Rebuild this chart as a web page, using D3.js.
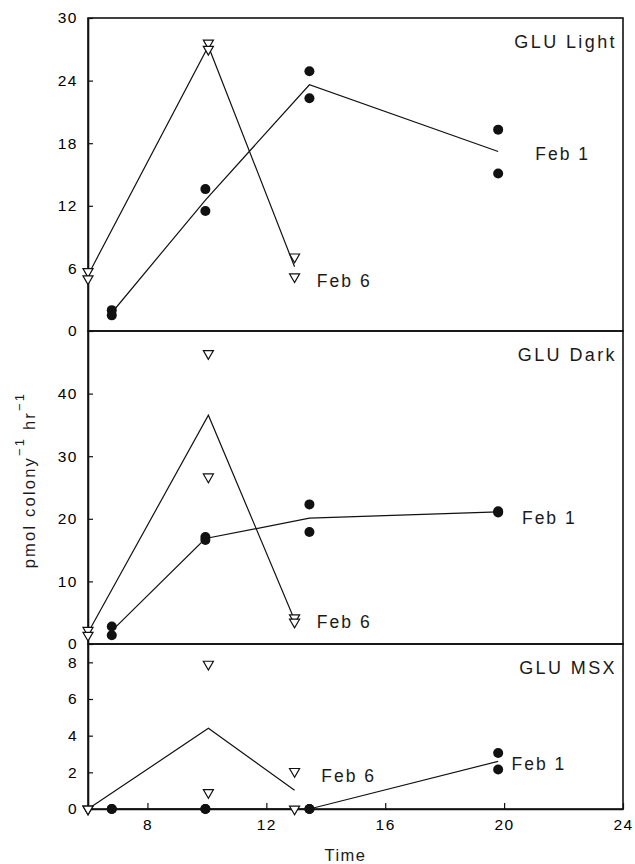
<!DOCTYPE html>
<html lang="en">
<head>
    <meta charset="utf-8">
    <title>GLU uptake</title>
    <script src="https://d3js.org/d3.v7.min.js" charset="utf-8"></script>
    <style type="text/css">
        body { margin: 0; background: #fff; }
        .textset {
            font-family: 'Liberation Sans', Arial, sans-serif;
            fill: #1a1a1a;
        }
        .frame { fill: none; stroke: #111; stroke-width: 1.6; }
        .series { fill: none; stroke: #111; stroke-width: 1.2; }
        .tick line { stroke: #111; stroke-width: 1.2; }
        .domain { stroke: #111; stroke-width: 1.6; }
    </style>
</head>
<body>
    <script type="text/javascript">

        // sampling times (hours)
        var timesFeb1 = [6.8, 9.95, 13.45, 19.8];
        var timesFeb6 = [6, 10.05, 12.95];

        // replicate values, pmol colony-1 hr-1
        var lightFeb1 = [[2.0, 1.5], [13.6, 11.5], [24.9, 22.3], [19.3, 15.1]];
        var lightFeb6 = [[5.7, 5.0], [27.6, 27.0], [7.1, 5.2]];
        var darkFeb1 = [[2.8, 1.4], [17.1, 16.6], [22.3, 17.9], [21.2, 21.0]];
        var darkFeb6 = [[2.2, 1.4], [46.4, 26.7], [4.2, 3.5]];
        var msxFeb1 = [[0, 0], [0, 0], [0, 0], [3.05, 2.15]];
        var msxFeb6 = [[0, 0], [7.9, 0.9], [2.05, 0]];

        var panelNames = ["GLU Light", "GLU Dark", "GLU MSX"];
        var yMaxes = [30, 50, 9];
        var yTicks = [[0, 6, 12, 18, 24, 30], [0, 10, 20, 30, 40], [0, 2, 4, 6, 8]];
        var xTicks = [8, 12, 16, 20, 24];

        var margin = { top: 18, right: 12, bottom: 55, left: 88 },
            width = 635 - margin.left - margin.right,
            panelHeights = [313, 313, 165];

        // where the "Feb" labels sit, in data units of each panel
        var labelSpots = [
            { feb1: [21.05, 16.4], feb6: [13.7, 4.2] },
            { feb1: [20.6, 19.2], feb6: [13.7, 2.5] },
            { feb1: [20.25, 2.15], feb6: [13.85, 1.5] }
        ];

        var panels = [
            { feb1: lightFeb1, feb6: lightFeb6 },
            { feb1: darkFeb1, feb6: darkFeb6 },
            { feb1: msxFeb1, feb6: msxFeb6 }
        ];

        var svg = d3.select("body").append("svg")
            .attr("width", 635)
            .attr("height", 864)
            .append("g")
            .attr("transform", "translate(" + margin.left + "," + margin.top + ")");

        var x = d3.scaleLinear().domain([6, 24]).range([0, width]);

        var mean = function (d) { return d3.mean(d); };
        var triangle = d3.symbol().type(d3.symbolTriangle).size(44);

        var offset = 0;
        panels.forEach(function (p, i) {
            var h = panelHeights[i];
            var g = svg.append("g").attr("transform", "translate(0," + offset + ")");
            var y = d3.scaleLinear().domain([0, yMaxes[i]]).range([h, 0]);

            g.append("rect")
                .attr("class", "frame")
                .attr("width", width)
                .attr("height", h);

            g.append("g")
                .attr("class", "textset")
                .call(d3.axisLeft(y).tickValues(yTicks[i]).tickSizeInner(-5).tickSizeOuter(0).tickPadding(10))
                .selectAll("text")
                .attr("font-size", "15.5px")
                .attr("letter-spacing", "1.5px")
                .attr("font-family", "'Liberation Sans', Arial, sans-serif");

            if (i == panels.length - 1) {
                g.append("g")
                    .attr("class", "textset")
                    .attr("transform", "translate(0," + h + ")")
                    .call(d3.axisBottom(x).tickValues(xTicks).tickSizeInner(-6).tickSizeOuter(0).tickPadding(10))
                    .selectAll("text")
                    .attr("font-size", "15.5px")
                    .attr("letter-spacing", "1.5px")
                    .attr("font-family", "'Liberation Sans', Arial, sans-serif");
            }

            var line = d3.line()
                .x(function (d) { return x(d[0]); })
                .y(function (d) { return y(d[1]); });

            g.append("path")
                .attr("class", "series")
                .attr("d", line(timesFeb6.map(function (t, k) { return [t, mean(p.feb6[k])]; })));
            g.append("path")
                .attr("class", "series")
                .attr("d", line(timesFeb1.map(function (t, k) { return [t, mean(p.feb1[k])]; })));

            var pts1 = [], pts6 = [];
            timesFeb1.forEach(function (t, k) { p.feb1[k].forEach(function (v) { pts1.push([t, v]); }); });
            timesFeb6.forEach(function (t, k) { p.feb6[k].forEach(function (v) { pts6.push([t, v]); }); });

            g.selectAll(".tri")
                .data(pts6)
                .enter()
                .append("path")
                .attr("class", "tri")
                .attr("d", triangle)
                .attr("transform", function (d) {
                    return "translate(" + x(d[0]) + "," + y(d[1]) + ") rotate(180)";
                })
                .attr("fill", "#fff")
                .attr("stroke", "#111")
                .attr("stroke-width", 1.2);

            g.selectAll(".dot")
                .data(pts1)
                .enter()
                .append("circle")
                .attr("class", "dot")
                .attr("cx", function (d) { return x(d[0]); })
                .attr("cy", function (d) { return y(d[1]); })
                .attr("r", 5)
                .attr("fill", "#111");

            g.append("text")
                .attr("class", "textset")
                .attr("x", width - 6)
                .attr("y", 30)
                .attr("text-anchor", "end")
                .attr("font-size", "18px")
                .attr("letter-spacing", "2.4px")
                .text(panelNames[i]);

            g.append("text")
                .attr("class", "textset")
                .attr("x", x(labelSpots[i].feb1[0]))
                .attr("y", y(labelSpots[i].feb1[1]))
                .attr("font-size", "17.5px")
                .attr("letter-spacing", "2px")
                .text("Feb 1");

            g.append("text")
                .attr("class", "textset")
                .attr("x", x(labelSpots[i].feb6[0]))
                .attr("y", y(labelSpots[i].feb6[1]))
                .attr("font-size", "17.5px")
                .attr("letter-spacing", "2px")
                .text("Feb 6");

            offset += h;
        });

        // axis titles
        svg.append("text")
            .attr("class", "textset")
            .attr("x", x(15) - 10)
            .attr("y", offset + 52)
            .attr("text-anchor", "middle")
            .attr("font-size", "16.5px")
            .attr("letter-spacing", "1.5px")
            .text("Time");

        var ytitle = svg.append("text")
            .attr("class", "textset")
            .attr("transform", "translate(" + (-53) + "," + 462 + ") rotate(-90)")
            .attr("text-anchor", "middle")
            .attr("font-size", "16.5px")
            .attr("letter-spacing", "2.2px");
        ytitle.append("tspan").text("pmol colony");
        ytitle.append("tspan").attr("dy", -11).attr("font-size", "13px").text("\u22121");
        ytitle.append("tspan").attr("dy", 11).text("  hr");
        ytitle.append("tspan").attr("dy", -11).attr("font-size", "13px").text("\u22121");

    </script>
</body>
</html>
